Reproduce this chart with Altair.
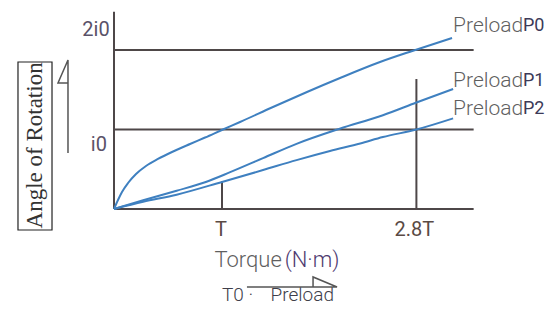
import altair as alt
import pandas as pd

# ---- data (x in units of T, y in units of i0) ----
p0_x = [0, 0.037, 0.074, 0.130, 0.204, 0.296, 0.407, 0.537, 0.704, 0.843, 1.009, 1.167,
        1.472, 1.787, 2.093, 2.463, 2.769, 3.130]
p0_y = [0, 0.113, 0.214, 0.327, 0.440, 0.541, 0.629, 0.717, 0.818, 0.899, 1.000, 1.094,
        1.283, 1.472, 1.648, 1.849, 1.991, 2.151]
p1_x = [0, 0.27, 0.58, 0.85, 1.07, 1.38, 1.69, 2.09, 2.49, 2.80, 3.14]
p1_y = [0, 0.11, 0.23, 0.34, 0.46, 0.64, 0.82, 1.01, 1.18, 1.34, 1.51]
p2_x = [0, 0.27, 0.58, 1.00, 1.38, 1.69, 2.00, 2.28, 2.49, 2.80, 3.14]
p2_y = [0, 0.09, 0.18, 0.34, 0.49, 0.615, 0.73, 0.825, 0.905, 1.00, 1.14]
series_names = ["P0", "P1", "P2"]
label_y = [2.30, 1.61, 1.26]

rows = []
for name, xs_, ys_ in zip(series_names, [p0_x, p1_x, p2_x], [p0_y, p1_y, p2_y]):
    for i, (a, b) in enumerate(zip(xs_, ys_)):
        rows.append({"x": a, "y": b, "series": name, "order": i})
curves = pd.DataFrame(rows)

BLUE = "#3f80c0"
DARK = "#4e4748"
GRAY = "#5f5f5f"
COND = "Roboto, sans-serif"
LIGHT = "Roboto, Noto Sans, sans-serif"

xs = alt.Scale(domain=[0, 1], range=[106, 214], nice=False, zero=False)
ys = alt.Scale(domain=[0, 1], range=[201, 121.5], nice=False, zero=False)

def X(f="x"):
    return alt.X(f"{f}:Q", scale=xs, axis=None)

def Y(f="y"):
    return alt.Y(f"{f}:Q", scale=ys, axis=None)

# horizontal reference lines and axes
hlines = pd.DataFrame({"x": [0, 0, 0], "x2": [3.33, 3.33, 3.33], "y": [0, 1, 2]})
vlines = pd.DataFrame({"x": [0, 1, 2.8], "y": [0, 0, 0], "y2": [2.48, 0.35, 1.635]})

h = alt.Chart(hlines).mark_rule(color=DARK, strokeWidth=2).encode(
    x=X(), x2="x2:Q", y=Y())
v = alt.Chart(vlines).mark_rule(color=DARK, strokeWidth=2).encode(
    x=X(), y=Y(), y2="y2:Q")

lines = alt.Chart(curves).mark_line(color=BLUE, strokeWidth=2, interpolate="monotone").encode(
    x=X(), y=Y(), detail="series:N", order="order:Q")

# series labels
lab = pd.DataFrame({"x": [3.14] * 3, "x2": [3.787] * 3, "y": label_y, "s": series_names})
lab1 = alt.Chart(lab).mark_text(align="left", baseline="middle", font=LIGHT,
                                fontSize=21, fontWeight=300, color=GRAY).encode(
    x=X(), y=Y(), text=alt.value("Preload"))
lab2 = alt.Chart(lab).mark_text(align="left", baseline="middle", font=COND,
                                fontSize=18, color="#3c3a58").encode(
    x=X("x2"), y=Y(), text="s:N")

# tick-like labels
ticks = pd.DataFrame({"x": [0.99, 2.78], "y": [-0.27, -0.27], "t": ["T", "2.8T"]})
tk = alt.Chart(ticks).mark_text(align="center", baseline="middle", font=COND,
                                fontSize=20, color="#5a4a44").encode(
    x=X(), y=Y(), text="t:N")
ylab = pd.DataFrame({"x": [-0.04, -0.065], "y": [2.25, 0.80], "t": ["2i0", "i0"]})
yl = alt.Chart(ylab).mark_text(align="right", baseline="middle", font=COND,
                               fontSize=20, color="#5a5268").encode(
    x=X(), y=Y(), text="t:N")

# axis titles
tq = pd.DataFrame({"x": [0.93, 1.58], "y": [-0.64, -0.64], "t": ["Torque", "(N·m)"],
                   "c": ["a", "b"]})
tqt = alt.Chart(tq).mark_text(align="left", baseline="middle", font=LIGHT,
                              fontSize=22, fontWeight=300).encode(
    x=X(), y=Y(), text="t:N",
    color=alt.Color("c:N", scale=alt.Scale(domain=["a", "b"], range=[GRAY, "#4e3a70"]),
                    legend=None))

bt = pd.DataFrame({"x": [1.0, 1.45], "y": [-1.2075, -1.2075], "t": ["T0 ·", "Preload"]})
btt = alt.Chart(bt).mark_text(align="left", baseline="bottom", font=LIGHT,
                              fontSize=19, fontWeight=300, color="#3e3e4a").encode(
    x=X(), y=Y(), text="t:N")

ang = pd.DataFrame({"x": [-0.731], "y": [0.80], "t": ["Angle of Rotation"]})
angt = alt.Chart(ang).mark_text(angle=270, align="center", baseline="middle",
                                font="Liberation Serif, DejaVu Serif, serif",
                                fontSize=23, color="#333333").encode(
    x=X(), y=Y(), text="t:N")
box = pd.DataFrame({"x": [-0.889], "x2": [-0.574], "y": [1.849], "y2": [-0.264]})
boxm = alt.Chart(box).mark_rect(fill=None, stroke="#222222", strokeWidth=1.2).encode(
    x=X(), x2="x2:Q", y=Y(), y2="y2:Q")

# arrows
arr = pd.DataFrame({
    "x": [-0.426, -0.426, -0.5185, -0.426, 1.231, 2.065, 1.843, 1.843],
    "y": [0.704, 1.874, 1.585, 1.585, -0.981, -0.981, -0.855, -0.981],
    "g": ["a", "a", "a", "a", "b", "b", "b", "b"],
    "o": [0, 1, 2, 3, 0, 1, 2, 3],
})
arrm = alt.Chart(arr).mark_line(color="#555555", strokeWidth=1.5).encode(
    x=X(), y=Y(), detail="g:N", order="o:Q")

chart = alt.layer(h, v, lines, lab1, lab2, tk, yl, tqt, btt, angt, boxm, arrm).properties(
    width=537, height=297, autosize=alt.AutoSizeParams(type="none"), padding=0
).configure_view(stroke=None)

chart.save("out.html", embed_options={"renderer": "svg", "actions": False})
